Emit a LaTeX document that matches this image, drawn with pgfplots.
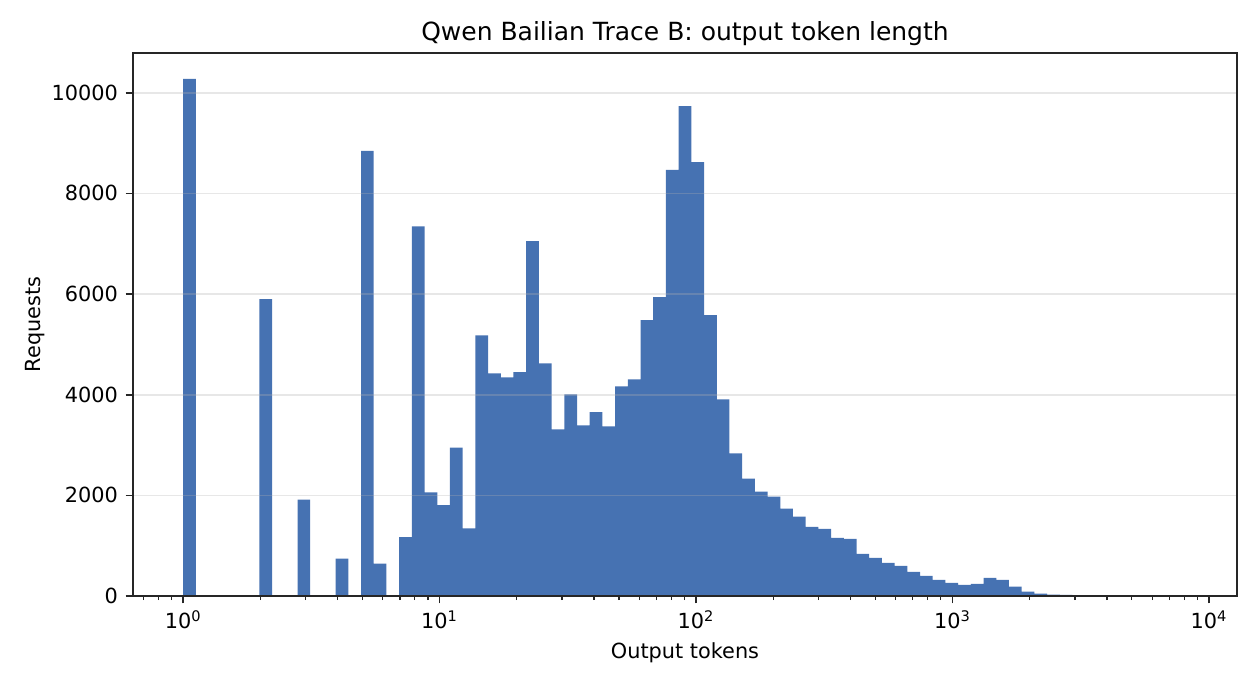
\documentclass[border=0pt]{standalone}
\usepackage{fontspec}
\setmainfont{DejaVu Sans}
\usepackage{pgfplots}
\usepackage{pgfplotstable}
\pgfplotsset{compat=1.18}
\definecolor{barblue}{RGB}{70,114,178}
\definecolor{gridgray}{HTML}{B0B0B0}
\definecolor{spine}{HTML}{262626}
% left bin edge, count (last row = right edge of last bin)
\pgfplotstableread{
x y
1.0000 10275
1.1208 0
1.2562 0
1.4080 0
1.5781 0
1.7688 0
1.9825 5900
2.2220 0
2.4905 0
2.7914 1916
3.1287 0
3.5067 0
3.9304 745
4.4053 0
4.9375 8844
5.5341 644
6.2027 0
6.9521 1171
7.7921 7347
8.7335 2061
9.7886 1808
10.9713 2950
12.2969 1345
13.7826 5177
15.4478 4425
17.3142 4346
19.4061 4447
21.7507 7050
24.3786 4620
27.3240 3312
30.6253 4006
34.3254 3391
38.4726 3652
43.1209 3370
48.3308 4165
54.1701 4302
60.7149 5481
68.0505 5937
76.2724 8468
85.4876 9733
95.8162 8620
107.394 5583
120.369 3906
134.912 2833
151.212 2332
169.482 2073
189.959 1973
212.910 1734
238.634 1575
267.466 1375
299.781 1336
336.001 1156
376.596 1136
422.097 837
473.095 757
530.255 658
594.320 598
666.127 478
746.609 399
836.814 322
937.918 262
1051.24 222
1178.25 242
1320.60 362
1480.16 322
1658.99 186
1859.43 86
2084.09 46
2335.89 26
2618.11 22
2934.43 9
3288.97 5
3686.34 3
4131.72 2
4630.91 1
5190.41 1
5817.52 0
6520.40 0
7308.18 1
8191.10 0
}\hist
\begin{document}
\begin{tikzpicture}
\begin{axis}[
  xmode=log,
  scale only axis,
  width=529.92pt, height=260.64pt,
  xmin=0.6373, xmax=12854,
  ymin=0, ymax=10790,
  axis on top,
  ymajorgrids,
  grid style={gridgray, opacity=0.3, line width=0.8pt},
  axis line style={spine, line width=0.8pt},
  tick style={spine},
  major tick style={line width=0.8pt},
  minor tick style={line width=0.6pt},
  major tick length=3.5pt, minor tick length=2pt,
  tick align=outside,
  xtick pos=bottom, ytick pos=left,
  xtick={1,10,100,1000,10000},
  xticklabels={10\textsuperscript{0},10\textsuperscript{1},10\textsuperscript{2},10\textsuperscript{3},10\textsuperscript{4}},
  minor xtick={0.7,0.8,0.9,2,3,4,5,6,7,8,9,20,30,40,50,60,70,80,90,200,300,400,500,600,700,800,900,2000,3000,4000,5000,6000,7000,8000,9000},
  ytick={0,2000,4000,6000,8000,10000},
  scaled y ticks=false,
  /pgf/number format/1000 sep={},
  /pgf/number format/assume math mode=true,
  tick label style={font=\fontsize{10}{12}\selectfont},
  yticklabel style={inner sep=0pt, anchor=east, xshift=-3.5pt},
  xticklabel style={inner sep=0pt, anchor=base, yshift=-12.3pt},
  title={Qwen Bailian Trace B: output token length},
  every axis title/.style={font=\fontsize{12}{14}\selectfont, at={(axis description cs:0.5,1)}, anchor=base, yshift=5.9pt, inner sep=0pt},
  xlabel={Output tokens},
  every axis x label/.style={font=\fontsize{10}{12}\selectfont, at={(axis description cs:0.5,0)}, anchor=base, yshift=-29.8pt, inner sep=0pt},
  ylabel={Requests},
  every axis y label/.style={font=\fontsize{10}{12}\selectfont, at={([xshift=-44.2pt]axis description cs:0,0.5)}, rotate=90, anchor=base, inner sep=0pt},
]
\addplot[ybar interval, fill=barblue, draw=none] table[x=x, y=y] {\hist};
\coordinate (ll) at (axis description cs:0,0);
\coordinate (ur) at (axis description cs:1,1);
\end{axis}
\pgfresetboundingbox
\path ([shift={(-63.84pt,-45.12pt)}]ll) rectangle ([shift={(11.04pt,25.44pt)}]ur);
\end{tikzpicture}
\end{document}
